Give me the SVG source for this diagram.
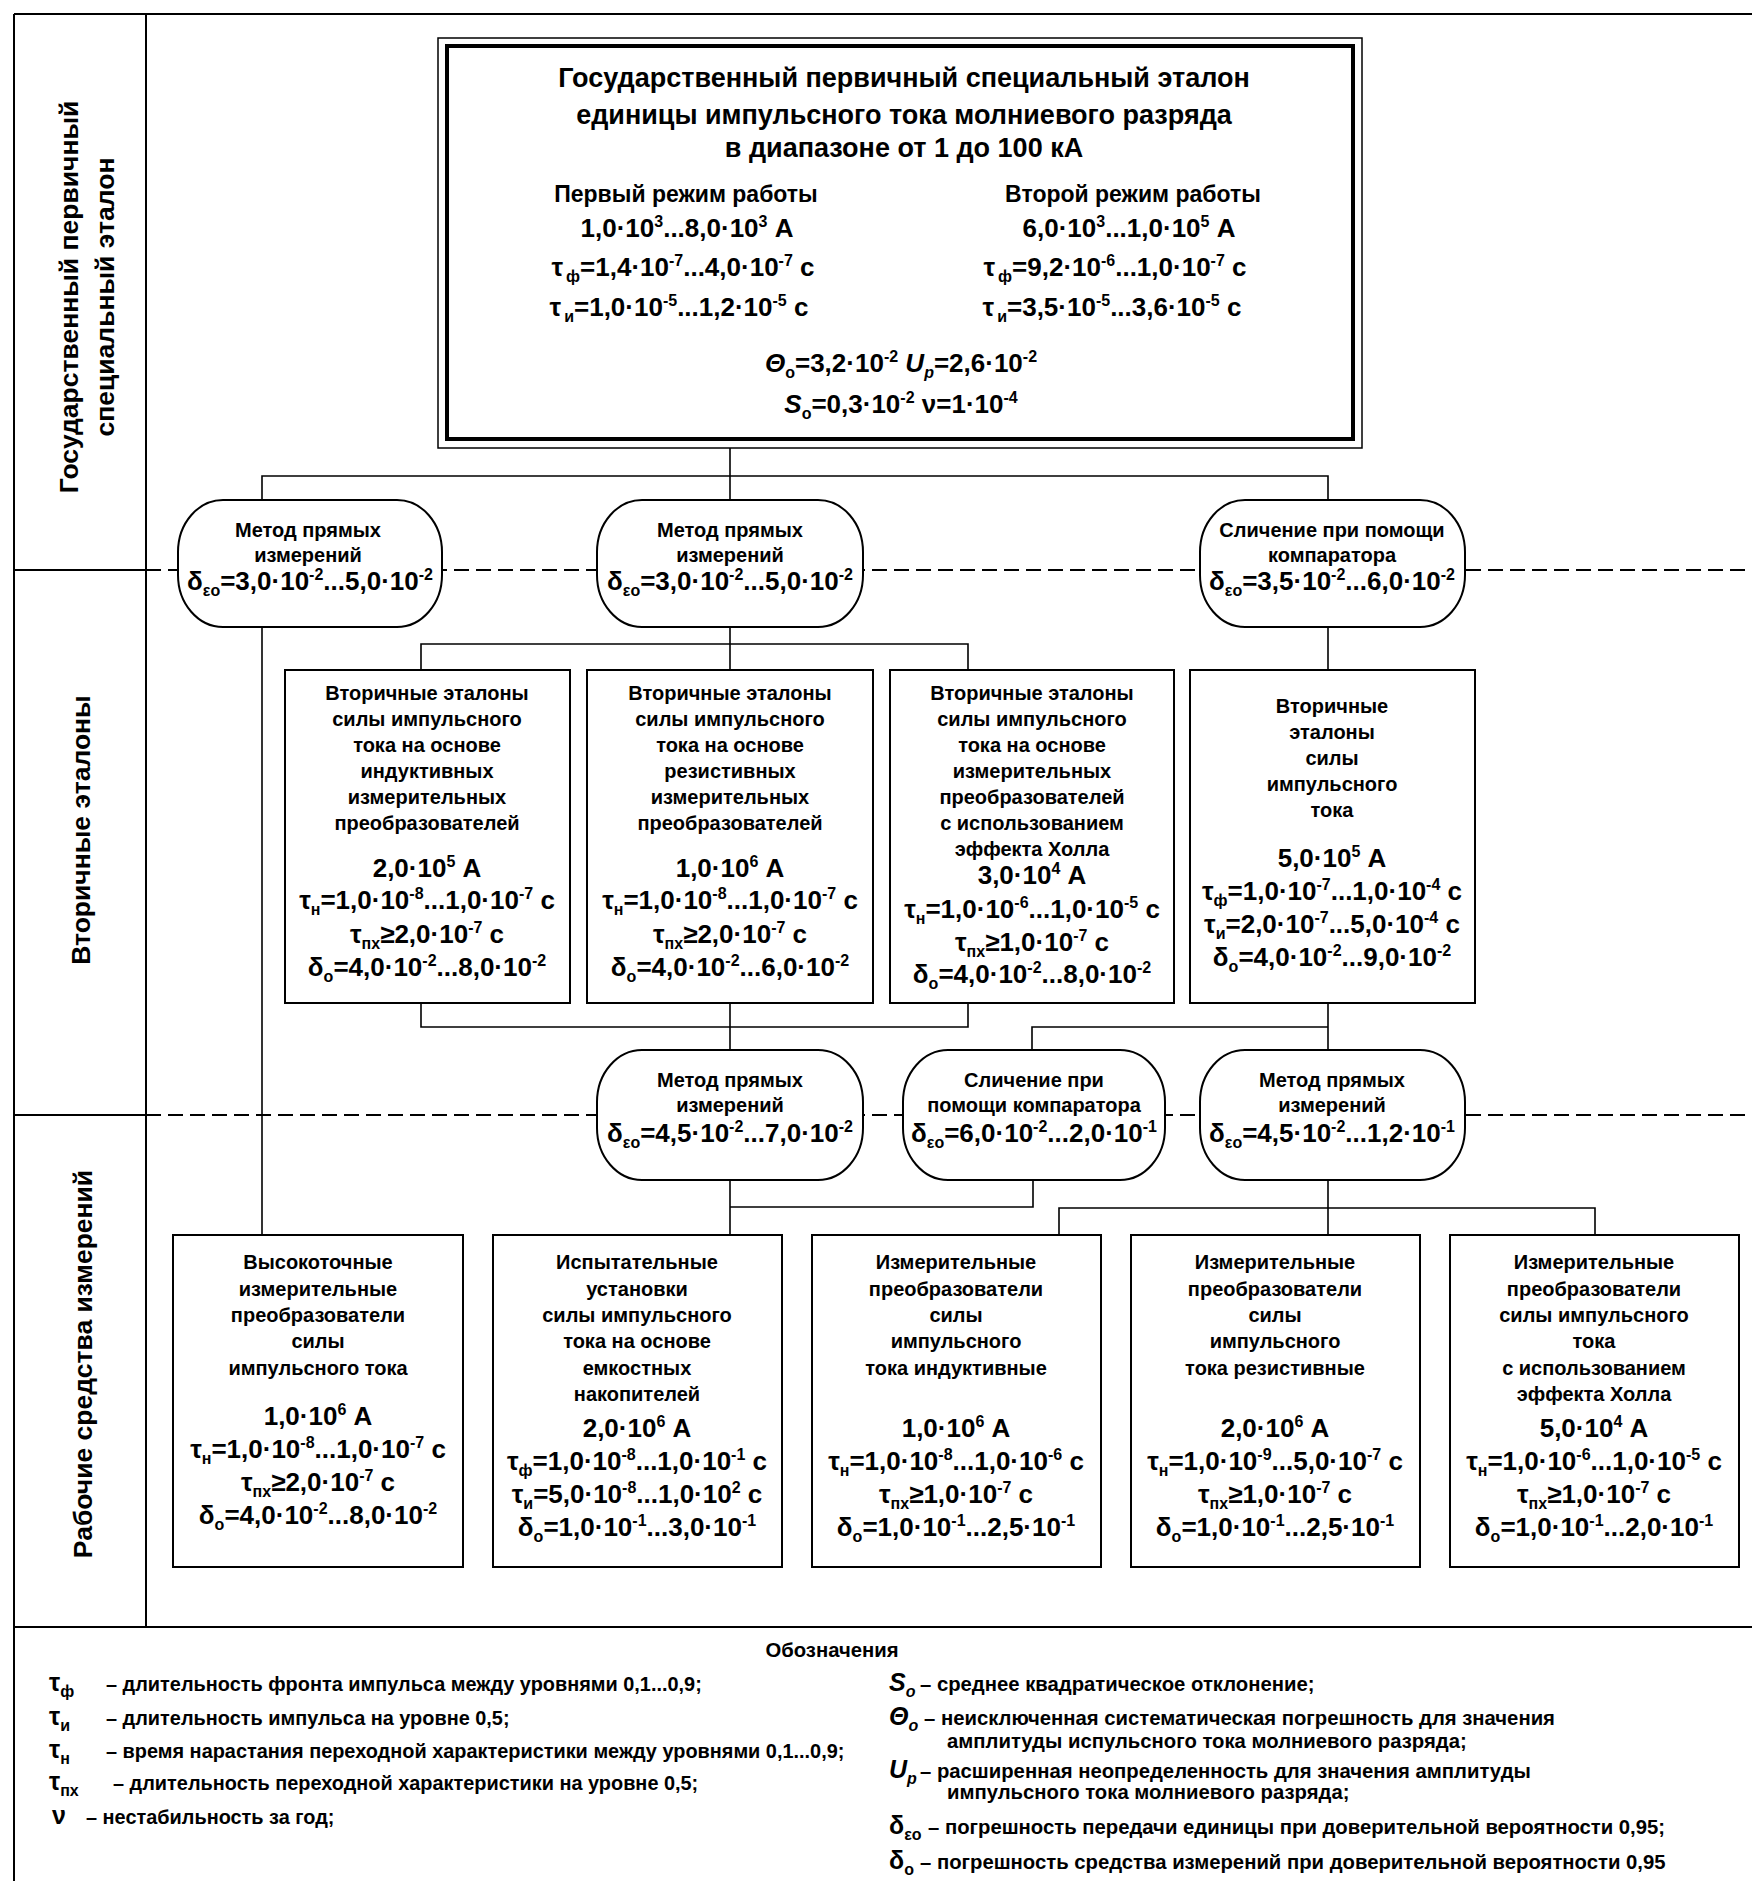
<svg xmlns="http://www.w3.org/2000/svg" width="1752" height="1881" viewBox="0 0 1752 1881">
<style>
text{font-family:"Liberation Sans",Arial,sans-serif;font-weight:bold;fill:#000;text-anchor:middle}
.ttl{font-size:27px}
.hd{font-size:23px}
.fm{font-size:26px}
.ds{font-size:20px}
.lb{font-size:26.5px}
.lg{font-size:20.3px;text-anchor:start}
.lgl{font-size:19.9px;text-anchor:start}
.lgc{font-size:20.3px}
.ls{font-size:25px;text-anchor:start}
.s{font-size:16px}
.it{font-style:italic}
.box{fill:#fff;stroke:#000;stroke-width:2}
.rnd{fill:#fff;stroke:#000;stroke-width:2}
.ln{stroke:#000;stroke-width:1.6;fill:none}
.fr{stroke:#000;stroke-width:2;fill:none}
.dash{stroke:#000;stroke-width:2;stroke-dasharray:15 7;fill:none}
</style>
<rect width="1752" height="1881" fill="#fff"/>

<g id="frame">
<line class="dash" x1="146" y1="570" x2="1752" y2="570"/>
<line class="dash" x1="146" y1="1115" x2="1752" y2="1115"/>
<line class="fr" x1="14" y1="570" x2="146" y2="570"/>
<line class="fr" x1="14" y1="1115" x2="146" y2="1115"/>
<line class="fr" x1="14" y1="14" x2="1752" y2="14"/>
<line class="fr" x1="14" y1="14" x2="14" y2="1881"/>
<line class="fr" x1="146" y1="14" x2="146" y2="1627"/>
<line class="fr" x1="14" y1="1627" x2="1752" y2="1627"/>
<text class="lb" transform="translate(68,297) rotate(-90)" x="0" y="10">Государственный первичный</text>
<text class="lb" transform="translate(104,297) rotate(-90)" x="0" y="10">специальный эталон</text>
<text class="lb" transform="translate(80,830) rotate(-90)" x="0" y="10">Вторичные эталоны</text>
<text class="lb" transform="translate(82,1364) rotate(-90)" x="0" y="10">Рабочие средства измерений</text>
</g>

<g id="connectors">
<polyline class="ln" points="730,448 730,500"/>
<polyline class="ln" points="262,500 262,476 1328,476 1328,500"/>
<polyline class="ln" points="262,627 262,1235"/>
<polyline class="ln" points="730,627 730,670"/>
<polyline class="ln" points="421,670 421,644 968,644 968,670"/>
<polyline class="ln" points="1328,627 1328,670"/>
<polyline class="ln" points="421,1003 421,1027 968,1027 968,1003"/>
<polyline class="ln" points="730,1003 730,1050"/>
<polyline class="ln" points="1328,1003 1328,1050"/>
<polyline class="ln" points="1032,1050 1032,1027 1328,1027"/>
<polyline class="ln" points="730,1180 730,1235"/>
<polyline class="ln" points="730,1207 1033,1207 1033,1180"/>
<polyline class="ln" points="1328,1180 1328,1235"/>
<polyline class="ln" points="1059,1235 1059,1208 1595,1208 1595,1235"/>
</g>

<g id="main">
<rect x="438" y="38" width="924" height="410" fill="#fff" stroke="#000" stroke-width="1.5"/>
<rect x="447" y="46" width="906" height="393" fill="none" stroke="#000" stroke-width="4"/>
<text class="ttl" x="904" y="87">Государственный первичный специальный эталон</text>
<text class="ttl" x="904" y="124">единицы импульсного тока молниевого разряда</text>
<text class="ttl" x="904" y="157">в диапазоне от 1 до 100 кА</text>
<text class="hd" x="686" y="202">Первый режим работы</text>
<text class="fm" x="687" y="237">1,0·10<tspan class="s" dy="-10">3</tspan><tspan dy="10">...8,0·10</tspan><tspan class="s" dy="-10">3</tspan><tspan dy="10"> А</tspan></text>
<text class="fm" x="683" y="276">τ<tspan class="s" dx="3" dy="6">ф</tspan><tspan dy="-6">=1,4·10</tspan><tspan class="s" dy="-10">-7</tspan><tspan dy="10">...4,0·10</tspan><tspan class="s" dy="-10">-7</tspan><tspan dy="10"> с</tspan></text>
<text class="fm" x="679" y="316">τ<tspan class="s" dx="3" dy="6">и</tspan><tspan dy="-6">=1,0·10</tspan><tspan class="s" dy="-10">-5</tspan><tspan dy="10">...1,2·10</tspan><tspan class="s" dy="-10">-5</tspan><tspan dy="10"> с</tspan></text>
<text class="hd" x="1133" y="202">Второй режим работы</text>
<text class="fm" x="1129" y="237">6,0·10<tspan class="s" dy="-10">3</tspan><tspan dy="10">...1,0·10</tspan><tspan class="s" dy="-10">5</tspan><tspan dy="10"> А</tspan></text>
<text class="fm" x="1115" y="276">τ<tspan class="s" dx="3" dy="6">ф</tspan><tspan dy="-6">=9,2·10</tspan><tspan class="s" dy="-10">-6</tspan><tspan dy="10">...1,0·10</tspan><tspan class="s" dy="-10">-7</tspan><tspan dy="10"> с</tspan></text>
<text class="fm" x="1112" y="316">τ<tspan class="s" dx="3" dy="6">и</tspan><tspan dy="-6">=3,5·10</tspan><tspan class="s" dy="-10">-5</tspan><tspan dy="10">...3,6·10</tspan><tspan class="s" dy="-10">-5</tspan><tspan dy="10"> с</tspan></text>
<text class="fm" x="901" y="372"><tspan class="it">Θ</tspan><tspan class="s" dy="6">о</tspan><tspan dy="-6">=3,2·10</tspan><tspan class="s" dy="-10">-2</tspan><tspan dy="10"> </tspan><tspan class="it">U</tspan><tspan class="s it" dy="6">р</tspan><tspan dy="-6">=2,6·10</tspan><tspan class="s" dy="-10">-2</tspan></text>
<text class="fm" x="901" y="413"><tspan class="it">S</tspan><tspan class="s" dy="6">о</tspan><tspan dy="-6">=0,3·10</tspan><tspan class="s" dy="-10">-2</tspan><tspan dy="10"> ν=1·10</tspan><tspan class="s" dy="-10">-4</tspan></text>
</g>

<g id="m1">
<rect class="rnd" x="178" y="500" width="264" height="127" rx="45" ry="52"/>
<text class="ds" x="308" y="537">Метод прямых</text>
<text class="ds" x="308" y="562">измерений</text>
<text class="fm" x="310" y="590">δ<tspan class="s" dy="6">εо</tspan><tspan dy="-6">=3,0·10</tspan><tspan class="s" dy="-10">-2</tspan><tspan dy="10">...5,0·10</tspan><tspan class="s" dy="-10">-2</tspan></text>
</g>
<g id="m2">
<rect class="rnd" x="597" y="500" width="266" height="127" rx="45" ry="52"/>
<text class="ds" x="730" y="537">Метод прямых</text>
<text class="ds" x="730" y="562">измерений</text>
<text class="fm" x="730" y="590">δ<tspan class="s" dy="6">εо</tspan><tspan dy="-6">=3,0·10</tspan><tspan class="s" dy="-10">-2</tspan><tspan dy="10">...5,0·10</tspan><tspan class="s" dy="-10">-2</tspan></text>
</g>
<g id="m3">
<rect class="rnd" x="1200" y="500" width="265" height="127" rx="45" ry="52"/>
<text class="ds" x="1332" y="537">Сличение при помощи</text>
<text class="ds" x="1332" y="562">компаратора</text>
<text class="fm" x="1332" y="590">δ<tspan class="s" dy="6">εо</tspan><tspan dy="-6">=3,5·10</tspan><tspan class="s" dy="-10">-2</tspan><tspan dy="10">...6,0·10</tspan><tspan class="s" dy="-10">-2</tspan></text>
</g>

<g id="s1">
<rect class="box" x="285" y="670" width="285" height="333"/>
<text class="ds" x="427" y="700">Вторичные эталоны</text>
<text class="ds" x="427" y="726">силы импульсного</text>
<text class="ds" x="427" y="752">тока на основе</text>
<text class="ds" x="427" y="778">индуктивных</text>
<text class="ds" x="427" y="804">измерительных</text>
<text class="ds" x="427" y="830">преобразователей</text>
<text class="fm" x="427" y="877">2,0·10<tspan class="s" dy="-10">5</tspan><tspan dy="10"> А</tspan></text>
<text class="fm" x="427" y="909">τ<tspan class="s" dy="6">н</tspan><tspan dy="-6">=1,0·10</tspan><tspan class="s" dy="-10">-8</tspan><tspan dy="10">...1,0·10</tspan><tspan class="s" dy="-10">-7</tspan><tspan dy="10"> с</tspan></text>
<text class="fm" x="427" y="943">τ<tspan class="s" dy="6">пх</tspan><tspan dy="-6">≥2,0·10</tspan><tspan class="s" dy="-10">-7</tspan><tspan dy="10"> с</tspan></text>
<text class="fm" x="427" y="976">δ<tspan class="s" dy="6">о</tspan><tspan dy="-6">=4,0·10</tspan><tspan class="s" dy="-10">-2</tspan><tspan dy="10">...8,0·10</tspan><tspan class="s" dy="-10">-2</tspan></text>
</g>
<g id="s2">
<rect class="box" x="587" y="670" width="286" height="333"/>
<text class="ds" x="730" y="700">Вторичные эталоны</text>
<text class="ds" x="730" y="726">силы импульсного</text>
<text class="ds" x="730" y="752">тока на основе</text>
<text class="ds" x="730" y="778">резистивных</text>
<text class="ds" x="730" y="804">измерительных</text>
<text class="ds" x="730" y="830">преобразователей</text>
<text class="fm" x="730" y="877">1,0·10<tspan class="s" dy="-10">6</tspan><tspan dy="10"> А</tspan></text>
<text class="fm" x="730" y="909">τ<tspan class="s" dy="6">н</tspan><tspan dy="-6">=1,0·10</tspan><tspan class="s" dy="-10">-8</tspan><tspan dy="10">...1,0·10</tspan><tspan class="s" dy="-10">-7</tspan><tspan dy="10"> с</tspan></text>
<text class="fm" x="730" y="943">τ<tspan class="s" dy="6">пх</tspan><tspan dy="-6">≥2,0·10</tspan><tspan class="s" dy="-10">-7</tspan><tspan dy="10"> с</tspan></text>
<text class="fm" x="730" y="976">δ<tspan class="s" dy="6">о</tspan><tspan dy="-6">=4,0·10</tspan><tspan class="s" dy="-10">-2</tspan><tspan dy="10">...6,0·10</tspan><tspan class="s" dy="-10">-2</tspan></text>
</g>
<g id="s3">
<rect class="box" x="890" y="670" width="284" height="333"/>
<text class="ds" x="1032" y="700">Вторичные эталоны</text>
<text class="ds" x="1032" y="726">силы импульсного</text>
<text class="ds" x="1032" y="752">тока на основе</text>
<text class="ds" x="1032" y="778">измерительных</text>
<text class="ds" x="1032" y="804">преобразователей</text>
<text class="ds" x="1032" y="830">с использованием</text>
<text class="ds" x="1032" y="856">эффекта Холла</text>
<text class="fm" x="1032" y="884">3,0·10<tspan class="s" dy="-10">4</tspan><tspan dy="10"> А</tspan></text>
<text class="fm" x="1032" y="918">τ<tspan class="s" dy="6">н</tspan><tspan dy="-6">=1,0·10</tspan><tspan class="s" dy="-10">-6</tspan><tspan dy="10">...1,0·10</tspan><tspan class="s" dy="-10">-5</tspan><tspan dy="10"> с</tspan></text>
<text class="fm" x="1032" y="951">τ<tspan class="s" dy="6">пх</tspan><tspan dy="-6">≥1,0·10</tspan><tspan class="s" dy="-10">-7</tspan><tspan dy="10"> с</tspan></text>
<text class="fm" x="1032" y="983">δ<tspan class="s" dy="6">о</tspan><tspan dy="-6">=4,0·10</tspan><tspan class="s" dy="-10">-2</tspan><tspan dy="10">...8,0·10</tspan><tspan class="s" dy="-10">-2</tspan></text>
</g>
<g id="s4">
<rect class="box" x="1190" y="670" width="285" height="333"/>
<text class="ds" x="1332" y="713">Вторичные</text>
<text class="ds" x="1332" y="739">эталоны</text>
<text class="ds" x="1332" y="765">силы</text>
<text class="ds" x="1332" y="791">импульсного</text>
<text class="ds" x="1332" y="817">тока</text>
<text class="fm" x="1332" y="867">5,0·10<tspan class="s" dy="-10">5</tspan><tspan dy="10"> А</tspan></text>
<text class="fm" x="1332" y="900">τ<tspan class="s" dy="6">ф</tspan><tspan dy="-6">=1,0·10</tspan><tspan class="s" dy="-10">-7</tspan><tspan dy="10">...1,0·10</tspan><tspan class="s" dy="-10">-4</tspan><tspan dy="10"> с</tspan></text>
<text class="fm" x="1332" y="933">τ<tspan class="s" dy="6">и</tspan><tspan dy="-6">=2,0·10</tspan><tspan class="s" dy="-10">-7</tspan><tspan dy="10">...5,0·10</tspan><tspan class="s" dy="-10">-4</tspan><tspan dy="10"> с</tspan></text>
<text class="fm" x="1332" y="966">δ<tspan class="s" dy="6">о</tspan><tspan dy="-6">=4,0·10</tspan><tspan class="s" dy="-10">-2</tspan><tspan dy="10">...9,0·10</tspan><tspan class="s" dy="-10">-2</tspan></text>
</g>

<g id="m4">
<rect class="rnd" x="597" y="1050" width="266" height="130" rx="45" ry="52"/>
<text class="ds" x="730" y="1087">Метод прямых</text>
<text class="ds" x="730" y="1112">измерений</text>
<text class="fm" x="730" y="1142">δ<tspan class="s" dy="6">εо</tspan><tspan dy="-6">=4,5·10</tspan><tspan class="s" dy="-10">-2</tspan><tspan dy="10">...7,0·10</tspan><tspan class="s" dy="-10">-2</tspan></text>
</g>
<g id="m5">
<rect class="rnd" x="903" y="1050" width="262" height="130" rx="45" ry="52"/>
<text class="ds" x="1034" y="1087">Сличение при</text>
<text class="ds" x="1034" y="1112">помощи компаратора</text>
<text class="fm" x="1034" y="1142">δ<tspan class="s" dy="6">εо</tspan><tspan dy="-6">=6,0·10</tspan><tspan class="s" dy="-10">-2</tspan><tspan dy="10">...2,0·10</tspan><tspan class="s" dy="-10">-1</tspan></text>
</g>
<g id="m6">
<rect class="rnd" x="1200" y="1050" width="265" height="130" rx="45" ry="52"/>
<text class="ds" x="1332" y="1087">Метод прямых</text>
<text class="ds" x="1332" y="1112">измерений</text>
<text class="fm" x="1332" y="1142">δ<tspan class="s" dy="6">εо</tspan><tspan dy="-6">=4,5·10</tspan><tspan class="s" dy="-10">-2</tspan><tspan dy="10">...1,2·10</tspan><tspan class="s" dy="-10">-1</tspan></text>
</g>

<g id="w1">
<rect class="box" x="173" y="1235" width="290" height="332"/>
<text class="ds" x="318" y="1269">Высокоточные</text>
<text class="ds" x="318" y="1296">измерительные</text>
<text class="ds" x="318" y="1322">преобразователи</text>
<text class="ds" x="318" y="1348">силы</text>
<text class="ds" x="318" y="1375">импульсного тока</text>
<text class="fm" x="318" y="1425">1,0·10<tspan class="s" dy="-10">6</tspan><tspan dy="10"> А</tspan></text>
<text class="fm" x="318" y="1458">τ<tspan class="s" dy="6">н</tspan><tspan dy="-6">=1,0·10</tspan><tspan class="s" dy="-10">-8</tspan><tspan dy="10">...1,0·10</tspan><tspan class="s" dy="-10">-7</tspan><tspan dy="10"> с</tspan></text>
<text class="fm" x="318" y="1491">τ<tspan class="s" dy="6">пх</tspan><tspan dy="-6">≥2,0·10</tspan><tspan class="s" dy="-10">-7</tspan><tspan dy="10"> с</tspan></text>
<text class="fm" x="318" y="1524">δ<tspan class="s" dy="6">о</tspan><tspan dy="-6">=4,0·10</tspan><tspan class="s" dy="-10">-2</tspan><tspan dy="10">...8,0·10</tspan><tspan class="s" dy="-10">-2</tspan></text>
</g>
<g id="w2">
<rect class="box" x="493" y="1235" width="289" height="332"/>
<text class="ds" x="637" y="1269">Испытательные</text>
<text class="ds" x="637" y="1296">установки</text>
<text class="ds" x="637" y="1322">силы импульсного</text>
<text class="ds" x="637" y="1348">тока на основе</text>
<text class="ds" x="637" y="1375">емкостных</text>
<text class="ds" x="637" y="1401">накопителей</text>
<text class="fm" x="637" y="1437">2,0·10<tspan class="s" dy="-10">6</tspan><tspan dy="10"> А</tspan></text>
<text class="fm" x="637" y="1470">τ<tspan class="s" dy="6">ф</tspan><tspan dy="-6">=1,0·10</tspan><tspan class="s" dy="-10">-8</tspan><tspan dy="10">...1,0·10</tspan><tspan class="s" dy="-10">-1</tspan><tspan dy="10"> с</tspan></text>
<text class="fm" x="637" y="1503">τ<tspan class="s" dy="6">и</tspan><tspan dy="-6">=5,0·10</tspan><tspan class="s" dy="-10">-8</tspan><tspan dy="10">...1,0·10</tspan><tspan class="s" dy="-10">2</tspan><tspan dy="10"> с</tspan></text>
<text class="fm" x="637" y="1536">δ<tspan class="s" dy="6">о</tspan><tspan dy="-6">=1,0·10</tspan><tspan class="s" dy="-10">-1</tspan><tspan dy="10">...3,0·10</tspan><tspan class="s" dy="-10">-1</tspan></text>
</g>
<g id="w3">
<rect class="box" x="812" y="1235" width="289" height="332"/>
<text class="ds" x="956" y="1269">Измерительные</text>
<text class="ds" x="956" y="1296">преобразователи</text>
<text class="ds" x="956" y="1322">силы</text>
<text class="ds" x="956" y="1348">импульсного</text>
<text class="ds" x="956" y="1375">тока индуктивные</text>
<text class="fm" x="956" y="1437">1,0·10<tspan class="s" dy="-10">6</tspan><tspan dy="10"> А</tspan></text>
<text class="fm" x="956" y="1470">τ<tspan class="s" dy="6">н</tspan><tspan dy="-6">=1,0·10</tspan><tspan class="s" dy="-10">-8</tspan><tspan dy="10">...1,0·10</tspan><tspan class="s" dy="-10">-6</tspan><tspan dy="10"> с</tspan></text>
<text class="fm" x="956" y="1503">τ<tspan class="s" dy="6">пх</tspan><tspan dy="-6">≥1,0·10</tspan><tspan class="s" dy="-10">-7</tspan><tspan dy="10"> с</tspan></text>
<text class="fm" x="956" y="1536">δ<tspan class="s" dy="6">о</tspan><tspan dy="-6">=1,0·10</tspan><tspan class="s" dy="-10">-1</tspan><tspan dy="10">...2,5·10</tspan><tspan class="s" dy="-10">-1</tspan></text>
</g>
<g id="w4">
<rect class="box" x="1131" y="1235" width="289" height="332"/>
<text class="ds" x="1275" y="1269">Измерительные</text>
<text class="ds" x="1275" y="1296">преобразователи</text>
<text class="ds" x="1275" y="1322">силы</text>
<text class="ds" x="1275" y="1348">импульсного</text>
<text class="ds" x="1275" y="1375">тока резистивные</text>
<text class="fm" x="1275" y="1437">2,0·10<tspan class="s" dy="-10">6</tspan><tspan dy="10"> А</tspan></text>
<text class="fm" x="1275" y="1470">τ<tspan class="s" dy="6">н</tspan><tspan dy="-6">=1,0·10</tspan><tspan class="s" dy="-10">-9</tspan><tspan dy="10">...5,0·10</tspan><tspan class="s" dy="-10">-7</tspan><tspan dy="10"> с</tspan></text>
<text class="fm" x="1275" y="1503">τ<tspan class="s" dy="6">пх</tspan><tspan dy="-6">≥1,0·10</tspan><tspan class="s" dy="-10">-7</tspan><tspan dy="10"> с</tspan></text>
<text class="fm" x="1275" y="1536">δ<tspan class="s" dy="6">о</tspan><tspan dy="-6">=1,0·10</tspan><tspan class="s" dy="-10">-1</tspan><tspan dy="10">...2,5·10</tspan><tspan class="s" dy="-10">-1</tspan></text>
</g>
<g id="w5">
<rect class="box" x="1450" y="1235" width="289" height="332"/>
<text class="ds" x="1594" y="1269">Измерительные</text>
<text class="ds" x="1594" y="1296">преобразователи</text>
<text class="ds" x="1594" y="1322">силы импульсного</text>
<text class="ds" x="1594" y="1348">тока</text>
<text class="ds" x="1594" y="1375">с использованием</text>
<text class="ds" x="1594" y="1401">эффекта Холла</text>
<text class="fm" x="1594" y="1437">5,0·10<tspan class="s" dy="-10">4</tspan><tspan dy="10"> А</tspan></text>
<text class="fm" x="1594" y="1470">τ<tspan class="s" dy="6">н</tspan><tspan dy="-6">=1,0·10</tspan><tspan class="s" dy="-10">-6</tspan><tspan dy="10">...1,0·10</tspan><tspan class="s" dy="-10">-5</tspan><tspan dy="10"> с</tspan></text>
<text class="fm" x="1594" y="1503">τ<tspan class="s" dy="6">пх</tspan><tspan dy="-6">≥1,0·10</tspan><tspan class="s" dy="-10">-7</tspan><tspan dy="10"> с</tspan></text>
<text class="fm" x="1594" y="1536">δ<tspan class="s" dy="6">о</tspan><tspan dy="-6">=1,0·10</tspan><tspan class="s" dy="-10">-1</tspan><tspan dy="10">...2,0·10</tspan><tspan class="s" dy="-10">-1</tspan></text>
</g>

<g id="legend">
<text class="lgc" x="832" y="1657">Обозначения</text>
<text class="ls" x="49" y="1691">τ<tspan class="s" dy="6">ф</tspan></text>
<text class="lgl" x="106" y="1691">– длительность фронта импульса между уровнями 0,1...0,9;</text>
<text class="ls" x="49" y="1725">τ<tspan class="s" dy="6">и</tspan></text>
<text class="lgl" x="106" y="1725">– длительность импульса на уровне 0,5;</text>
<text class="ls" x="49" y="1758">τ<tspan class="s" dy="6">н</tspan></text>
<text class="lgl" x="106" y="1758">– время нарастания переходной характеристики между уровнями 0,1...0,9;</text>
<text class="ls" x="49" y="1790">τ<tspan class="s" dy="6">пх</tspan></text>
<text class="lgl" x="113" y="1790">– длительность переходной характеристики на уровне 0,5;</text>
<text class="ls" x="52" y="1824">ν</text>
<text class="lgl" x="86" y="1824">– нестабильность за год;</text>
<text class="ls it" x="889" y="1691">S<tspan class="s" dy="6">о</tspan></text>
<text class="lg" x="920" y="1691">– среднее квадратическое отклонение;</text>
<text class="ls it" x="889" y="1725">Θ<tspan class="s" dy="6">о</tspan></text>
<text class="lg" x="924" y="1725">– неисключенная систематическая погрешность для значения</text>
<text class="lg" x="947" y="1748">амплитуды испульсного тока молниевого разряда;</text>
<text class="ls it" x="889" y="1778">U<tspan class="s" dy="6">p</tspan></text>
<text class="lg" x="920" y="1778">– расширенная неопределенность для значения амплитуды</text>
<text class="lg" x="947" y="1799">импульсного тока молниевого разряда;</text>
<text class="ls" x="889" y="1834">δ<tspan class="s" dy="6">εо</tspan></text>
<text class="lg" x="928" y="1834">– погрешность передачи единицы при доверительной вероятности 0,95;</text>
<text class="ls" x="889" y="1869">δ<tspan class="s" dy="6">о</tspan></text>
<text class="lg" x="920" y="1869">– погрешность средства измерений при доверительной вероятности 0,95</text>
</g>
</svg>
